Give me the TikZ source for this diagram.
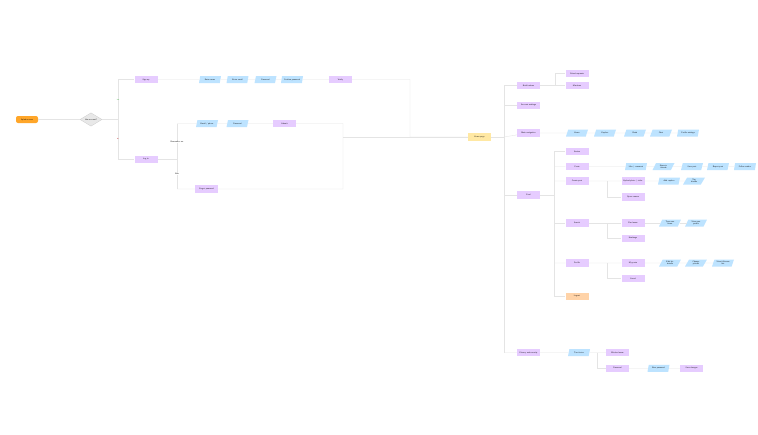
\documentclass[tikz,border=0pt]{standalone}
\usepackage{tikz}
\usetikzlibrary{shapes.geometric}
\definecolor{procfill}{HTML}{E6CCFF}
\definecolor{iofill}{HTML}{BDE3FF}
\definecolor{termfill}{HTML}{FFA629}
\definecolor{homefill}{HTML}{FFE8A3}
\definecolor{altfill}{HTML}{FFD3A8}
\definecolor{decfill}{HTML}{E8E8E8}
\definecolor{wire}{HTML}{E4E4E4}
\tikzset{
  flownode/.style = {align=center, inner sep=0pt, text centered,
    font=\sffamily\fontsize{2}{2.4}\selectfont},
  pr/.style = {flownode, rectangle, fill=procfill,
    minimum width=23pt, minimum height=7.5pt},% process box
  alt/.style = {pr, fill=altfill},% orange box
  io/.style = {flownode, trapezium, trapezium left angle=65, trapezium right angle=115,
    trapezium stretches=true, fill=iofill, minimum width=22pt, minimum height=7pt},% data
  term/.style = {flownode, rectangle, rounded corners=2pt, fill=termfill,
    minimum width=22pt, minimum height=7pt},% start
  dec/.style = {flownode, diamond, fill=decfill, draw=decfill!85!black, line width=0.2pt,
    minimum width=22pt, minimum height=12pt},% question
  home/.style = {pr, fill=homefill},
  wr/.style = {draw=wire, line width=0.35pt},
  tag/.style = {flownode, fill=white, inner sep=0.5pt}
}
\begin{document}
\begin{tikzpicture}[x=1pt,y=-1pt]
\useasboundingbox[fill=white] (0,0) rectangle (758,434);
% left part
\node [term] (start) at (27,119.5) {Splash screen};
\node [dec] (ask) at (91,119.5) {Has account?};
\coordinate (split) at (118,119.5);
\node [pr] (signup) at (146,79.5) {Sign up};
\node [io] (su1) at (210,79.5) {Enter name};
\node [io] (su2) at (237.5,79.5) {Enter email};
\node [io] (su3) at (265.5,79.5) {Password};
\node [io] (su4) at (292,79.5) {Confirm password};
\node [pr] (verify) at (340.5,79.5) {Verify};
\coordinate (jtop) at (410,79.5);
\node [home] (homepg) at (479.5,137) {Home page};
\node [pr] (login) at (146,159.5) {Log in};
\coordinate (lj) at (177,159.5);
\coordinate (lt) at (177,123.5);
\coordinate (lb) at (177,189);
\node [io] (li1) at (207,123.5) {Email / phone};
\node [io] (li2) at (237.5,123.5) {Password};
\node [pr] (submit) at (284.5,123.5) {Submit};
\node [pr] (forgot) at (206.5,189) {Forgot password};
\coordinate (rt) at (343,123.5);
\coordinate (rb) at (343,189);
\coordinate (rm) at (343,137);
\begin{scope}[wr]
\draw (start) -- (ask) -- (split);
\draw (split) |- (signup);
\draw (split) |- (login);
\draw (signup) -- (su1) -- (su2) -- (su3) -- (su4) -- (verify) -- (jtop) |- (homepg);
\draw (login) -- (lj);
\draw (lt) -- (lb);
\draw (lt) -- (li1) -- (li2) -- (submit) -- (rt) -- (rb) -- (forgot) -- (lb);
\draw (rm) -- (homepg);
\end{scope}
\node [flownode, text=green!60!black, font=\sffamily\fontsize{1.5}{1.8}\selectfont] (yes) at (118,100) {Yes};
\node [flownode, text=red!70!black, font=\sffamily\fontsize{1.5}{1.8}\selectfont] (no) at (118,139) {No};
\node [tag] (t1) at (177,142) {Remember me};
\node [tag] (t2) at (177,174) {New};
% right part
\coordinate (stop) at (504,85.5);
\coordinate (sbot) at (504,352.7);
\coordinate (shome) at (504,137);
\node [pr] (notif) at (528.5,85.5) {Notifications};
\node [pr] (req) at (577,73.5) {Friend requests};
\node [pr] (ment) at (577,85.5) {Mentions};
\coordinate (nj) at (555,85.5);
\node [pr] (acct) at (528.5,105.5) {Account settings};
\node [pr] (nav) at (528.5,133) {Main navigation};
\node [io] (nv1) at (577,133) {Home};
\node [io] (nv2) at (605,133) {Explore};
\node [io] (nv3) at (635,133) {Reels};
\node [io] (nv4) at (661,133) {Chat};
\node [io] (nv5) at (688,133) {Profile settings};
\node [pr] (feed) at (528.5,195) {Feed};
\coordinate (fj) at (554,195);
\coordinate (fjt) at (554,151.5);
\coordinate (fjb) at (554,296.5);
\node [pr] (stories) at (577,151.5) {Stories};
\node [pr] (posts) at (577,166.5) {Posts};
\node [pr] (create) at (577,181) {Create post};
\node [pr] (search) at (577,223) {Search};
\node [pr] (prof) at (577,263) {Profile};
\node [alt] (logout) at (577,296.5) {Logout};
\node [io] (ps1) at (636,166.5) {Like / comment};
\node [io] (ps2) at (663.5,166.5) {Share to\\friends};
\node [io] (ps3) at (692,166.5) {Save post};
\node [io] (ps4) at (718,166.5) {Report post};
\node [io] (ps5) at (745,166.5) {Follow author};
\node [pr] (upl) at (633,181) {Upload photo / video};
\node [pr] (cam) at (633,197) {Open camera};
\coordinate (cj) at (607,181);
\node [io] (up1) at (669,181) {Add caption};
\node [io] (up2) at (694,181) {Tag\\friends};
\node [pr] (srch1) at (633,223) {Find users};
\node [pr] (srch2) at (633,238.5) {Hashtags};
\coordinate (sj) at (607,223);
\node [io] (sr1) at (670,223) {Type user\\name};
\node [io] (sr2) at (696,223) {View user\\profile};
\node [pr] (pf1) at (633,263) {My posts};
\node [pr] (pf2) at (633,278.5) {Saved};
\coordinate (pj) at (607,263);
\node [io] (pr1) at (670,263) {Edit bio\\details};
\node [io] (pr2) at (696,263) {Change\\picture};
\node [io] (pr3) at (723,263) {View followers\\list};
\node [pr] (priv) at (528.5,352.7) {Privacy and security};
\node [io] (pv1) at (579,352.7) {Two factor};
\node [pr] (blk) at (617.5,352.7) {Blocked users};
\node [pr] (pwd) at (617.5,368.3) {Password};
\coordinate (bj) at (597,352.7);
\node [io] (pw1) at (658.5,368.3) {New password};
\node [pr] (save) at (691.5,368.3) {Save changes};
\begin{scope}[wr]
\draw (homepg) -- (shome);
\draw (stop) -- (sbot);
\draw (stop) -- (notif) -- (nj) |- (req);
\draw (nj) -- (ment);
\draw (stop |- acct) -- (acct);
\draw (shome) -- (nav) -- (nv1) -- (nv2) -- (nv3) -- (nv4) -- (nv5);
\draw (stop |- feed) -- (feed) -- (fj);
\draw (fjt) -- (fjb);
\draw (fjt) -- (stories);
\draw (fjt |- posts) -- (posts) -- (ps1) -- (ps2) -- (ps3) -- (ps4) -- (ps5);
\draw (fjt |- create) -- (create) -- (upl) -- (up1) -- (up2);
\draw (cj) |- (cam);
\draw (fjt |- search) -- (search) -- (srch1) -- (sr1) -- (sr2);
\draw (sj) |- (srch2);
\draw (fjt |- prof) -- (prof) -- (pf1) -- (pr1) -- (pr2) -- (pr3);
\draw (pj) |- (pf2);
\draw (fjb) -- (logout);
\draw (sbot) -- (priv) -- (pv1) -- (blk);
\draw (bj) |- (pwd);
\draw (pwd) -- (pw1) -- (save);
\end{scope}
\end{tikzpicture}
\end{document}
